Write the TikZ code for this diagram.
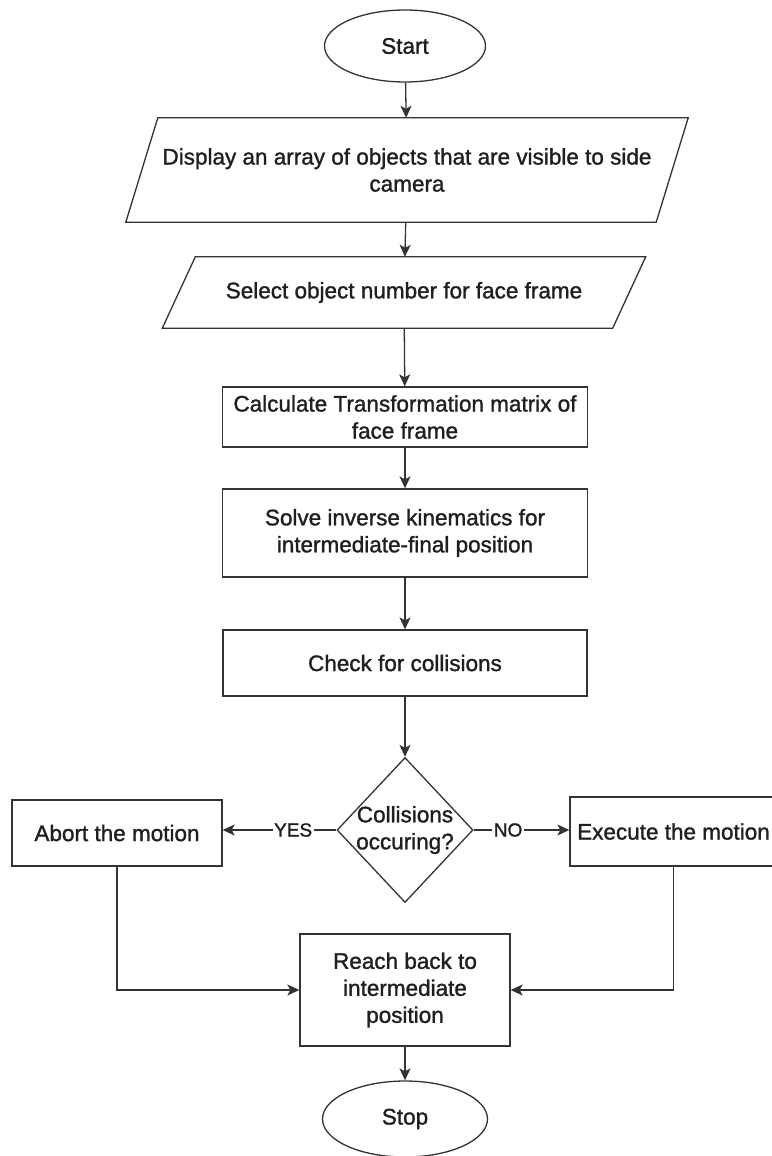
\documentclass[tikz,border=0pt]{standalone}
\usepackage{fontspec}
\setmainfont{Liberation Sans}[BoldFont={Liberation Sans}, BoldFeatures={FakeBold=1.3}]
\usetikzlibrary{shapes.geometric,arrows.meta,calc}
\begin{document}
\begin{tikzpicture}[x=1pt,y=-1pt,
  every node/.style={font=\fontsize{22.5}{27}\selectfont\bfseries, align=center, text=black!88},
  line/.style={draw=black!80, line width=1.3pt},
  terminal/.style={line, ellipse, minimum width=161pt, minimum height=72pt, inner sep=0pt},
  process/.style={line, rectangle, inner sep=0pt},
  iobody/.style={rectangle, inner sep=0pt},
  decision/.style={line, diamond, minimum width=136pt, minimum height=145pt, inner sep=0pt},
  flow/.style={line, -{Stealth[length=12pt,width=11pt,inset=3pt]}},
  tag/.style={fill=white, inner sep=1.5pt, font=\fontsize{19}{22}\selectfont\bfseries}
]
\useasboundingbox (0,0) rectangle (771,1156);
\fill[white] (0,0) rectangle (771,1156);

% terminals
\node[terminal] (start) at (405,46) {Start};
\node[terminal, minimum width=165pt, minimum height=76pt] (stop) at (405,1119) {Stop};

% input/output bodies (parallelograms drawn around them)
\node[iobody, minimum width=530pt, minimum height=104pt] (disp) at (407,170)
  {Display an array of objects that are visible to side\\camera};
\draw[line] ($(disp.north west)+(16,0)$) -- ($(disp.north east)+(16,0)$)
  -- ($(disp.south east)+(-16,0)$) -- ($(disp.south west)+(-16,0)$) -- cycle;

\node[iobody, minimum width=450pt, minimum height=71pt] (sel) at (404,292.5)
  {Select object number for face frame};
\draw[line] ($(sel.north west)+(16.5,0)$) -- ($(sel.north east)+(16.5,0)$)
  -- ($(sel.south east)+(-16.5,0)$) -- ($(sel.south west)+(-16.5,0)$) -- cycle;

% processes
\node[process, minimum width=365pt, minimum height=60pt] (calc) at (405,417)
  {Calculate Transformation matrix of\\face frame};
\node[process, minimum width=365pt, minimum height=88pt] (solve) at (405,533)
  {Solve inverse kinematics for\\intermediate-final position};
\node[process, minimum width=364pt, minimum height=66pt] (check) at (405,663)
  {Check for collisions};

% decision
\node[decision] (dec) at (405,830) {};
\node[inner sep=0pt] (dectext) at (dec.center) {Collisions\\occuring?};

\node[process, minimum width=210pt, minimum height=66pt] (abort) at (117,833)
  {Abort the motion};
\node[process, minimum width=207pt, minimum height=69pt] (exec) at (673.5,831.5)
  {Execute the motion};

\node[process, minimum width=210pt, minimum height=112pt] (reach) at (405,990)
  {Reach back to\\intermediate\\position};

% connectors
\draw[flow] (start) -- (disp);
\draw[flow] (disp) -- (sel);
\draw[flow] (sel) -- (calc);
\draw[flow] (calc) -- (solve);
\draw[flow] (solve) -- (check);
\draw[flow] (check) -- (dec);
\draw[flow] (dec.west) -- node[tag, pos=0.38] {YES} (dec.west -| abort.east);
\draw[flow] (dec.east) -- node[tag, pos=0.36] {NO} (dec.east -| exec.west);
\draw[flow] (abort.south) |- (reach.west);
\draw[flow] (exec.south) |- (reach.east);
\draw[flow] (reach) -- (stop);
\end{tikzpicture}
\end{document}
